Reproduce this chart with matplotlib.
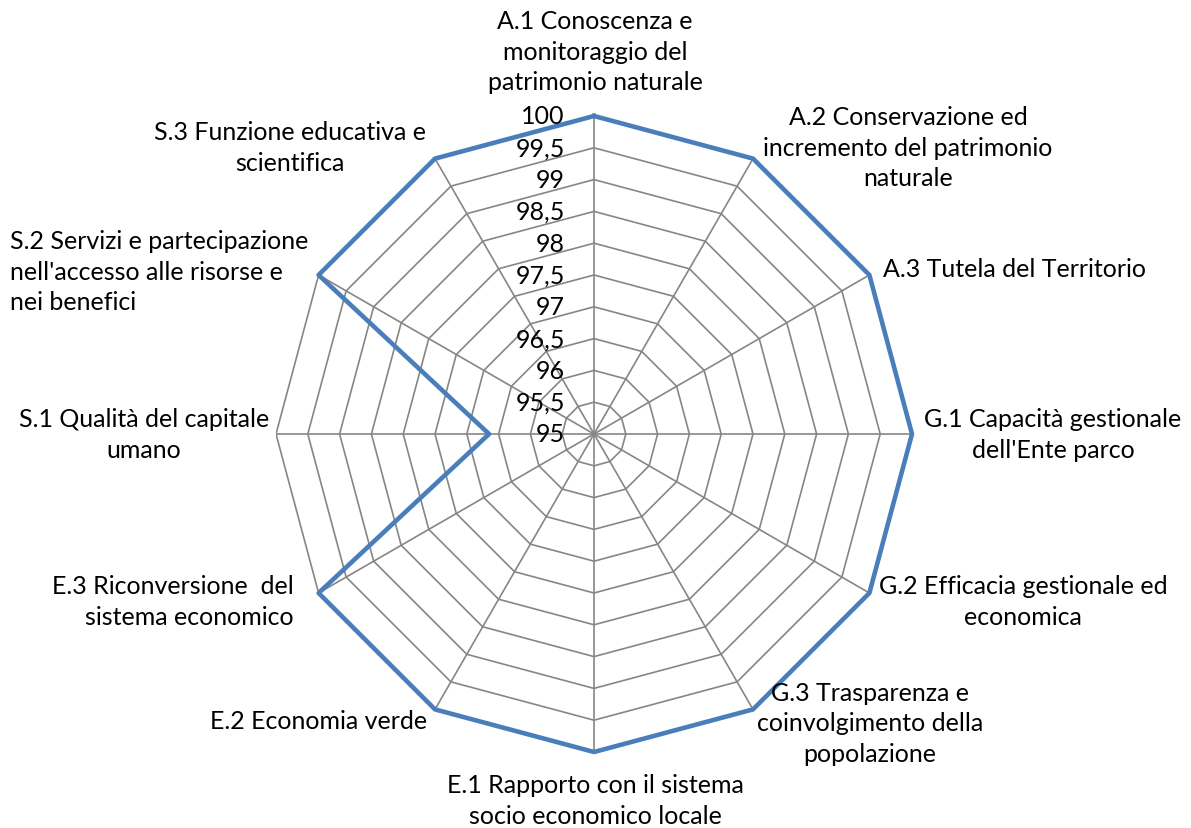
import numpy as np
import matplotlib
matplotlib.use("Agg")
import matplotlib.pyplot as plt

plt.rcParams['font.family'] = ['Lato', 'DejaVu Sans']

# indicator values (scale 95-100)
categories = [
    "A.1 Conoscenza e\nmonitoraggio del\npatrimonio naturale",
    "A.2 Conservazione ed\nincremento del patrimonio\nnaturale",
    "A.3 Tutela del Territorio",
    "G.1 Capacità gestionale\ndell'Ente parco",
    "G.2 Efficacia gestionale ed\neconomica",
    "G.3 Trasparenza e\ncoinvolgimento della\npopolazione",
    "E.1 Rapporto con il sistema\nsocio economico locale",
    "E.2 Economia verde",
    "E.3 Riconversione  del\nsistema economico",
    "S.1 Qualità del capitale\numano",
    "S.2 Servizi e partecipazione\nnell'accesso alle risorse e\nnei benefici",
    "S.3 Funzione educativa e\nscientifica",
]
values = [100, 100, 100, 100, 100, 100, 100, 100, 100, 96.65, 100, 100]
ring_levels = [95, 95.5, 96, 96.5, 97, 97.5, 98, 98.5, 99, 99.5, 100]
ring_labels = ["95", "95,5", "96", "96,5", "97", "97,5", "98", "98,5", "99", "99,5", "100"]

# label anchors in pixels (x, y from top, ha, multialign)
label_pos = [
    (595, 52, 'center', 'center'),
    (908, 148, 'center', 'center'),
    (883, 270, 'left', 'left'),
    (1053, 435, 'center', 'center'),
    (1023, 602, 'center', 'center'),
    (870, 724, 'center', 'center'),
    (595, 801, 'center', 'center'),
    (427, 722, 'right', 'right'),
    (294, 602, 'right', 'right'),
    (144, 435, 'center', 'center'),
    (10, 272, 'left', 'left'),
    (290, 148, 'center', 'center'),
]

W, H = 1191, 829
fig = plt.figure(figsize=(W / 100, H / 100), dpi=100)
cx, cy, R = 594, 435, 318
ax = fig.add_axes([(cx - R) / W, (H - cy - R) / H, 2 * R / W, 2 * R / H], projection='polar')
ax.set_theta_zero_location('N')
ax.set_theta_direction(-1)
ax.set_ylim(95, 100)
ax.axis('off')

n = len(categories)
theta = np.linspace(0, 2 * np.pi, n, endpoint=False)
theta_c = np.append(theta, theta[0])

grid_col = '#868686'
for lv in ring_levels:
    ax.plot(theta_c, [lv] * (n + 1), color=grid_col, lw=1.2, zorder=1)
for t in theta:
    ax.plot([t, t], [95, 100], color=grid_col, lw=1.2, zorder=1)

vals_c = values + values[:1]
ax.plot(theta_c, vals_c, color='#4a7ebb', lw=3.3, zorder=3, clip_on=False)

# radial tick labels along the top spoke
for lv, txt in zip(ring_levels, ring_labels):
    ax.annotate(txt, xy=(0, lv), xytext=(-21, 0), textcoords='offset points',
                ha='right', va='center', fontsize=18, zorder=4)

for txt, (x, y, ha, ma) in zip(categories, label_pos):
    fig.text(x / W, 1 - y / H, txt, ha=ha, va='center', multialignment=ma,
             fontsize=18, linespacing=1.4)

fig.savefig("out.png", dpi=100, facecolor='white')
